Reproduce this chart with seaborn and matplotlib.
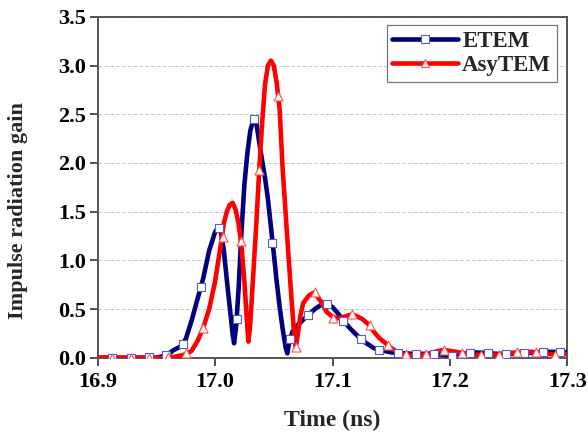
import matplotlib
matplotlib.use("Agg")
import matplotlib.pyplot as plt
from matplotlib.lines import Line2D
import seaborn as sns
import pandas as pd

# ---- data ----
etem_t = [16.900, 16.950, 16.955, 16.960, 16.965, 16.970, 16.975, 16.980, 16.985, 16.990,
          16.995, 17.000, 17.0025, 17.005, 17.0075, 17.010, 17.0125, 17.015, 17.0162, 17.018,
          17.020, 17.0225, 17.025, 17.0275, 17.030, 17.0325, 17.0340, 17.035, 17.0375, 17.040,
          17.0425, 17.045, 17.0475, 17.050, 17.0525, 17.055, 17.0575, 17.060, 17.0615, 17.063,
          17.066, 17.070, 17.075, 17.080, 17.085, 17.090, 17.095, 17.100, 17.105, 17.110,
          17.115, 17.120, 17.125, 17.130, 17.135, 17.140, 17.150, 17.160, 17.170, 17.180,
          17.190, 17.200, 17.210, 17.220, 17.230, 17.240, 17.250, 17.260, 17.270, 17.280,
          17.290, 17.300]
etem_g = [0.0, 0.0, 0.015, 0.04, 0.08, 0.11, 0.19, 0.38, 0.60, 0.82,
          1.10, 1.29, 1.335, 1.29, 1.10, 0.80, 0.52, 0.24, 0.148, 0.33,
          0.70, 1.30, 1.78, 2.10, 2.33, 2.44, 2.45, 2.42, 2.22, 2.03,
          1.85, 1.63, 1.35, 1.07, 0.78, 0.52, 0.30, 0.11, 0.045, 0.15,
          0.27, 0.33, 0.39, 0.445, 0.50, 0.54, 0.556, 0.52, 0.45, 0.37,
          0.30, 0.24, 0.18, 0.14, 0.10, 0.08, 0.055, 0.045, 0.04, 0.04,
          0.035, 0.025, 0.04, 0.055, 0.05, 0.04, 0.04, 0.045, 0.05, 0.06,
          0.06, 0.055]

asy_t = [16.900, 16.960, 16.965, 16.970, 16.975, 16.980, 16.985, 16.990, 16.995, 17.000,
         17.005, 17.0075, 17.010, 17.0125, 17.015, 17.0175, 17.020, 17.0225, 17.025, 17.027,
         17.0284, 17.030, 17.0325, 17.035, 17.0375, 17.040, 17.0425, 17.045, 17.0475, 17.050,
         17.0525, 17.055, 17.0575, 17.060, 17.0625, 17.065, 17.0675, 17.0687, 17.070, 17.0725,
         17.075, 17.080, 17.0845, 17.090, 17.095, 17.100, 17.105, 17.110, 17.115, 17.120,
         17.125, 17.130, 17.135, 17.140, 17.145, 17.150, 17.155, 17.160, 17.165, 17.170,
         17.180, 17.190, 17.195, 17.200, 17.210, 17.220, 17.230, 17.240, 17.250, 17.260,
         17.270, 17.280, 17.290, 17.300]
asy_g = [0.0, 0.0, 0.01, 0.02, 0.035, 0.07, 0.17, 0.31, 0.50, 0.78,
         1.17, 1.38, 1.50, 1.57, 1.59, 1.52, 1.38, 1.15, 0.78, 0.40,
         0.165, 0.35, 0.85, 1.35, 1.90, 2.40, 2.80, 3.00, 3.05, 3.00,
         2.82, 2.55, 1.95, 1.50, 1.05, 0.62, 0.22, 0.11, 0.20, 0.42,
         0.56, 0.64, 0.67, 0.58, 0.47, 0.42, 0.405, 0.42, 0.44, 0.43,
         0.40, 0.35, 0.27, 0.20, 0.15, 0.10, 0.06, 0.035, 0.02, 0.02,
         0.035, 0.07, 0.08, 0.07, 0.05, 0.03, 0.025, 0.03, 0.045, 0.06,
         0.06, 0.045, 0.03, 0.04]

etem_mark_t = [16.9126, 16.9285, 16.9438, 16.958, 16.9725, 16.988, 17.003, 17.0188, 17.0335,
               17.0488, 17.0638, 17.0794, 17.095, 17.109, 17.1245, 17.140, 17.156, 17.171,
               17.186, 17.202, 17.217, 17.232, 17.248, 17.263, 17.279, 17.294]
etem_mark_g = [0.0, 0.0, 0.005, 0.03, 0.14, 0.73, 1.33, 0.394, 2.45,
               1.18, 0.19, 0.44, 0.555, 0.38, 0.19, 0.079, 0.05, 0.04,
               0.04, 0.02, 0.05, 0.05, 0.04, 0.045, 0.06, 0.06]

asy_mark_t = [16.9126, 16.9285, 16.9438, 16.9597, 16.9753, 16.990, 17.0065, 17.0225, 17.0377,
              17.0539, 17.0693, 17.085, 17.100, 17.1163, 17.132, 17.1475, 17.1625, 17.180,
              17.195, 17.210, 17.226, 17.242, 17.257, 17.273, 17.289]
asy_mark_g = [0.0, 0.0, 0.0, 0.005, 0.045, 0.31, 1.24, 1.20, 1.93,
              2.69, 0.11, 0.67, 0.41, 0.445, 0.34, 0.13, 0.04, 0.035,
              0.08, 0.05, 0.03, 0.03, 0.06, 0.06, 0.03]

series_names = ["ETEM", "AsyTEM"]
x_ticks = [16.9, 17.0, 17.1, 17.2, 17.3]
y_ticks = [0.0, 0.5, 1.0, 1.5, 2.0, 2.5, 3.0, 3.5]

# ---- styling ----
sns.set_theme(style="ticks")
plt.rcParams['font.family'] = ['Liberation Serif', 'DejaVu Serif']
plt.rcParams['font.weight'] = 'bold'

BLUE = "#00007f"
RED = "#ff0000"

fig = plt.figure(figsize=(5.88, 4.38), dpi=100)
ax = fig.add_axes([0.166, 0.1833, 0.799, 0.7783])

lines_df = pd.concat([
    pd.DataFrame({"t": etem_t, "g": etem_g, "s": series_names[0]}),
    pd.DataFrame({"t": asy_t, "g": asy_g, "s": series_names[1]}),
])
marks_e = pd.DataFrame({"t": etem_mark_t, "g": etem_mark_g})
marks_a = pd.DataFrame({"t": asy_mark_t, "g": asy_mark_g})

for y in y_ticks[1:]:
    ax.axhline(y, color="#c8c8c8", lw=0.7, ls=(0, (4, 2)), zorder=0)

sns.lineplot(data=lines_df[lines_df.s == "ETEM"], x="t", y="g", color=BLUE, lw=3.3,
             sort=False, estimator=None, ax=ax, zorder=3, legend=False)
sns.lineplot(data=lines_df[lines_df.s == "AsyTEM"], x="t", y="g", color=RED, lw=3.3,
             sort=False, estimator=None, ax=ax, zorder=4, legend=False)
sns.scatterplot(data=marks_e, x="t", y="g", marker="s", s=32, facecolor="white",
                edgecolor="#5a5ad0", linewidth=0.8, ax=ax, zorder=5, legend=False)
sns.scatterplot(data=marks_a, x="t", y="g", marker="^", s=42, facecolor="white",
                edgecolor="#ff5050", linewidth=0.8, ax=ax, zorder=6, legend=False)

ax.set_xlim(16.9, 17.3)
ax.set_ylim(0, 3.5)
ax.set_xticks(x_ticks)
ax.set_xticklabels([f"{v:.1f}" for v in x_ticks])
ax.set_yticks(y_ticks)
ax.set_yticklabels([f"{v:.1f}" for v in y_ticks])
ax.tick_params(axis="both", direction="out", length=5.5, width=1.3, colors="#444444",
               labelcolor="black", labelsize=16, pad=3)
ax.tick_params(axis="x", pad=5)
for sp in ax.spines.values():
    sp.set_color("#555555")
    sp.set_linewidth(1.4)
    sp.set_visible(True)

ax.set_xlabel("Time (ns)", fontsize=17, fontweight="bold")
ax.set_ylabel("Impulse radiation gain", fontsize=16, fontweight="bold")
ax.xaxis.label.set_va("center")
ax.yaxis.label.set_va("center")
ax.xaxis.set_label_coords(0.5, (357.7 - 420) / 341)
ax.yaxis.set_label_coords((18 - 97.5) / 470, (357.7 - 211) / 341)

handles = [
    Line2D([], [], color=BLUE, lw=3.3, marker="s", markersize=5.5,
           markerfacecolor="white", markeredgecolor="#5a5ad0", markeredgewidth=0.8),
    Line2D([], [], color=RED, lw=3.3, marker="^", markersize=6,
           markerfacecolor="white", markeredgecolor="#ff5050", markeredgewidth=0.8),
]
leg = ax.legend(handles, series_names, loc="upper right", bbox_to_anchor=(0.9777, 0.976),
                frameon=True, fancybox=False, edgecolor="#777777", framealpha=1,
                prop={"family": "Liberation Serif", "weight": "bold", "size": 16.5},
                handlelength=2.85, handletextpad=0.2, borderpad=0.25, labelspacing=0.15,
                borderaxespad=0.0, markerfirst=True)
leg.get_frame().set_linewidth(0.9)

fig.savefig("out.png", dpi=100)
